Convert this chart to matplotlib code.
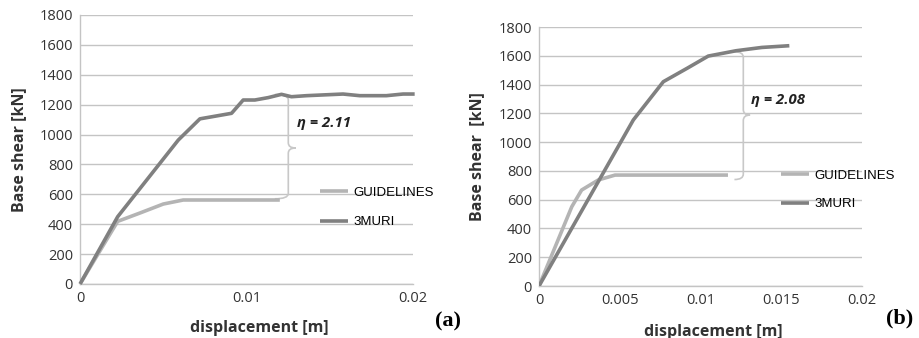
import numpy as np
import matplotlib.pyplot as plt
from matplotlib.path import Path
from matplotlib.patches import PathPatch
from matplotlib.ticker import FuncFormatter

# --- data ---
# panel (a)
a_muri_x = [0, 0.00226, 0.0059, 0.0072, 0.0091, 0.0098, 0.0105, 0.0113, 0.0121,
            0.0127, 0.0136, 0.0158, 0.0168, 0.0184, 0.0194, 0.0201]
a_muri_y = [0, 450, 963, 1105, 1142, 1231, 1231, 1247, 1269,
            1253, 1260, 1271, 1260, 1260, 1271, 1271]
a_guide_x = [0, 0.00226, 0.0036, 0.0050, 0.0062, 0.0120]
a_guide_y = [0, 419, 475, 535, 562, 562]
a_eta = "η = 2.11"
a_ylabel = "Base shear [kN]"

# panel (b)
b_muri_x = [0, 0.00584, 0.0077, 0.0092, 0.01048, 0.0122, 0.0138, 0.0155]
b_muri_y = [0, 1154, 1420, 1515, 1598, 1635, 1658, 1670]
b_guide_x = [0, 0.00203, 0.00264, 0.00367, 0.00471, 0.0117]
b_guide_y = [0, 551, 667, 737, 771, 771]
b_eta = "η = 2.08"
b_ylabel = "Base shear  [kN]"

y_ticks = list(range(0, 2000, 200))
a_x_ticks = [0, 0.01, 0.02]
b_x_ticks = [0, 0.005, 0.01, 0.015, 0.02]

C_MURI = "#808080"
C_GUIDE = "#b4b4b4"
C_GRID = "#c4c4c4"
C_BRACE = "#c8c8c8"


def brace(ax, x_end, x_spine, x_tip, y_bot, y_mid, y_top, r):
    verts = [(x_end, y_top), (x_spine, y_top), (x_spine, y_top - r),
             (x_spine, y_mid + r),
             (x_spine, y_mid), (x_tip, y_mid),
             (x_spine, y_mid), (x_spine, y_mid - r),
             (x_spine, y_bot + r),
             (x_spine, y_bot), (x_end, y_bot)]
    codes = [Path.MOVETO, Path.CURVE3, Path.CURVE3,
             Path.LINETO,
             Path.CURVE3, Path.CURVE3,
             Path.CURVE3, Path.CURVE3,
             Path.LINETO,
             Path.CURVE3, Path.CURVE3]
    ax.add_patch(PathPatch(Path(verts, codes), facecolor="none",
                           edgecolor=C_BRACE, lw=1.2, zorder=2))


def style_axes(ax, xticks, ylabel):
    ax.set_ylim(0, 1800)
    ax.set_xlim(0, 0.02)
    ax.set_yticks(y_ticks)
    ax.set_xticks(xticks)
    ax.xaxis.set_major_formatter(FuncFormatter(lambda v, p: f"{v:g}"))
    ax.grid(axis="y", color=C_GRID, lw=1)
    ax.set_axisbelow(True)
    for s in ["top", "right"]:
        ax.spines[s].set_visible(False)
    for s in ["left", "bottom"]:
        ax.spines[s].set_color(C_GRID)
        ax.spines[s].set_linewidth(1)
    ax.tick_params(length=0, labelsize=10.5, colors="#333333", pad=5)
    for lab in ax.get_xticklabels() + ax.get_yticklabels():
        lab.set_fontfamily("Open Sans")
    ax.set_ylabel(ylabel, fontsize=11.5, fontweight="bold",
                  family="Open Sans", color="#333333")
    ax.set_xlabel("displacement [m]", fontsize=11.5, fontweight="bold",
                  family="Open Sans", color="#333333")


fig = plt.figure(figsize=(9.19, 3.38), dpi=100)
ax1 = fig.add_axes([0.0871, 0.1598, 0.3623, 0.7959])
ax2 = fig.add_axes([0.5865, 0.1538, 0.3515, 0.7663])

# (a)
ax1.plot(a_guide_x, a_guide_y, color=C_GUIDE, lw=2.6, label="GUIDELINES",
         solid_capstyle="butt", zorder=3)
ax1.plot(a_muri_x, a_muri_y, color=C_MURI, lw=2.6, label="3MURI",
         solid_capstyle="butt", clip_on=False, zorder=4)
style_axes(ax1, a_x_ticks, a_ylabel)
brace(ax1, 0.0117, 0.01251, 0.01295, 570, 910, 1268, 35)
ax1.text(0.01303, 1077, a_eta, fontsize=10.7, fontweight="bold", style="italic",
         family="Open Sans", va="center", ha="left", color="#222222")
ax1.legend(loc="center left", bbox_to_anchor=(0.7207, 0.284), frameon=False,
           borderpad=0, borderaxespad=0, handlelength=2.1, handletextpad=0.45,
           labelspacing=1.3, prop={"family": "Liberation Sans", "size": 9.5})
ax1.yaxis.set_label_coords(-0.16, 0.5)
ax1.xaxis.set_label_coords(0.5375, -0.134)

# (b)
ax2.plot(b_guide_x, b_guide_y, color=C_GUIDE, lw=2.6, label="GUIDELINES",
         solid_capstyle="butt", zorder=3)
ax2.plot(b_muri_x, b_muri_y, color=C_MURI, lw=2.6, label="3MURI",
         solid_capstyle="butt", zorder=4)
style_axes(ax2, b_x_ticks, b_ylabel)
brace(ax2, 0.0121, 0.01265, 0.01307, 740, 1188, 1628, 38)
ax2.text(0.01313, 1293, b_eta, fontsize=10.7, fontweight="bold", style="italic",
         family="Open Sans", va="center", ha="left", color="#222222")
ax2.legend(loc="center left", bbox_to_anchor=(0.749, 0.3707), frameon=False,
           borderpad=0, borderaxespad=0, handlelength=2.1, handletextpad=0.45,
           labelspacing=1.25, prop={"family": "Liberation Sans", "size": 9.5})
ax2.yaxis.set_label_coords(-0.167, 0.5)
ax2.xaxis.set_label_coords(0.54, -0.145)

# panel tags
fig.text(0.4875, 0.05, "(a)", fontsize=16, fontweight="bold",
         family="Liberation Serif", ha="center", va="center")
fig.text(0.9793, 0.059, "(b)", fontsize=16, fontweight="bold",
         family="Liberation Serif", ha="center", va="center")

plt.savefig("out.png", dpi=100)
plt.close(fig)
